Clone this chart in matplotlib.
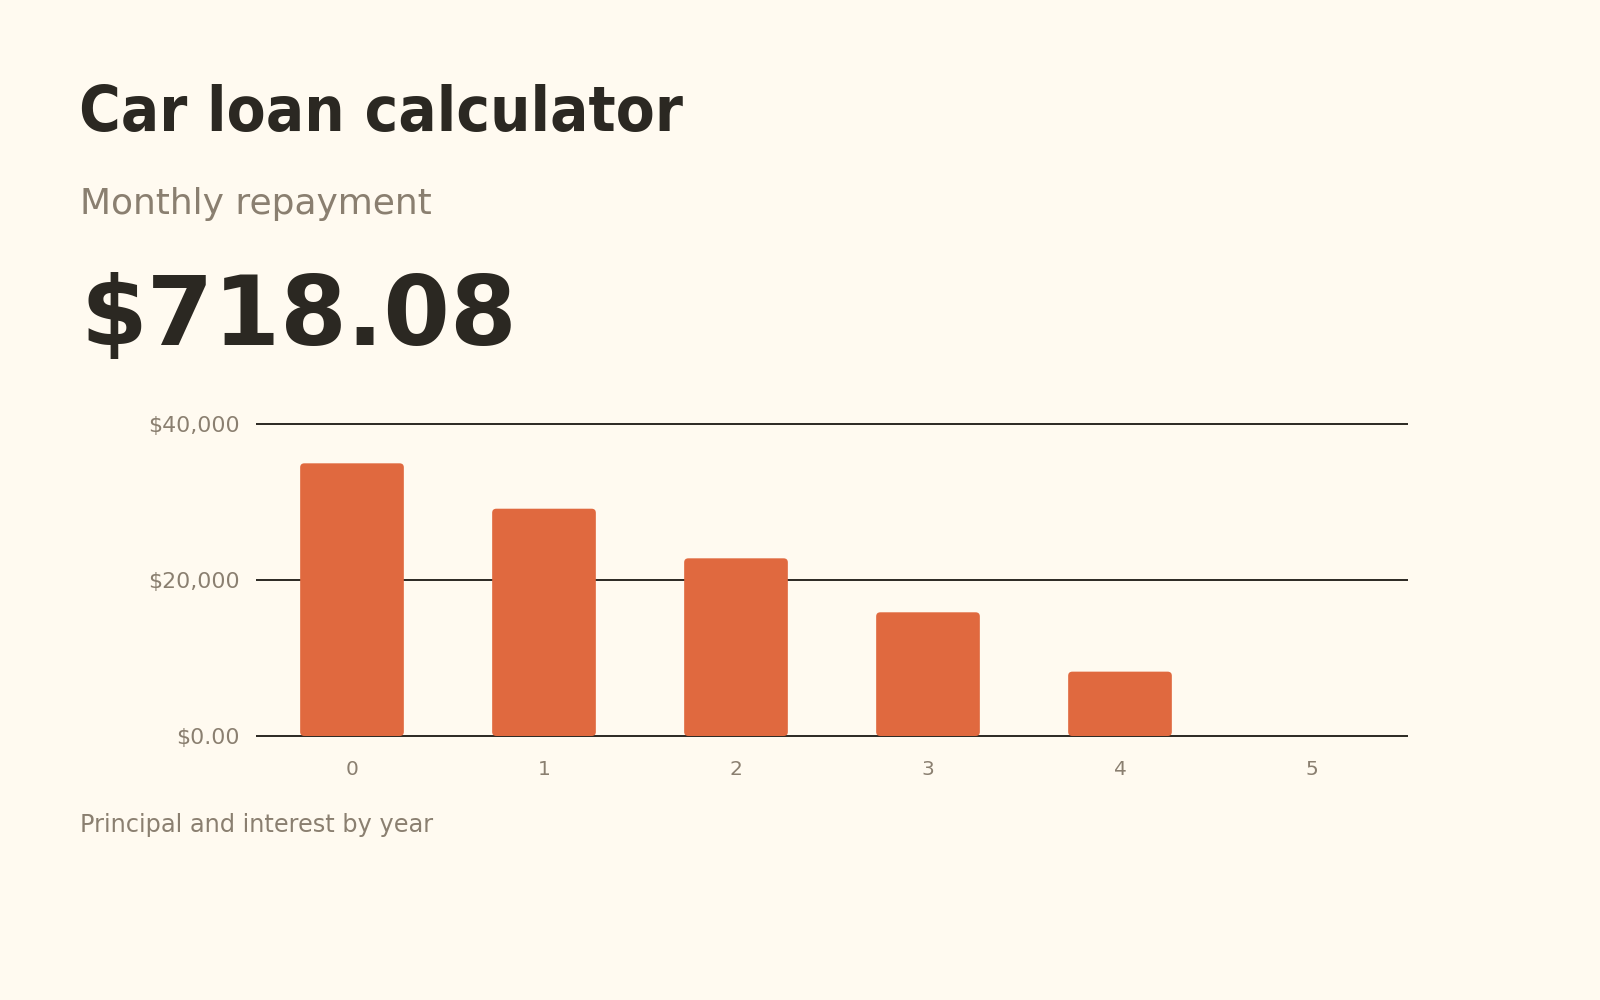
import matplotlib
matplotlib.use("Agg")
import matplotlib.pyplot as plt
from matplotlib.patches import FancyBboxPatch
from matplotlib.ticker import FuncFormatter

# Data: remaining principal + interest at the start of each year
years = [0, 1, 2, 3, 4, 5]
balance = [34960, 29140, 22780, 15860, 8250, 0]
monthly_payment = "$718.08"

bg = "#fffaf0"
ink = "#2b2822"
muted = "#8a7f70"
bar_color = "#e0693f"

fig = plt.figure(figsize=(16, 10), dpi=100, facecolor=bg)
ax = fig.add_axes([0.16, 0.264, 0.72, 0.312], facecolor=bg)

bars = ax.bar(years, balance, width=0.54, color=bar_color)

# swap the plain bars for rounded ones
for b in bars:
    x, y = b.get_x(), b.get_y()
    w, h = b.get_width(), b.get_height()
    b.remove()
    if h <= 0:
        continue
    ax.add_patch(FancyBboxPatch((x, y), w, h,
                                boxstyle="round,pad=0,rounding_size=0.022",
                                mutation_aspect=24000,
                                facecolor=bar_color, edgecolor="none", zorder=3))

ax.set_xlim(-0.5, 5.5)
ax.set_ylim(0, 40000)
ax.set_xticks(years)
ax.set_yticks([0, 20000, 40000])
ax.yaxis.set_major_formatter(FuncFormatter(lambda v, p: "$0.00" if v == 0 else f"${v:,.0f}"))
ax.grid(axis="y", color=ink, linewidth=1.4, zorder=1, solid_capstyle="butt")
ax.set_axisbelow(True)
for gl in ax.get_ygridlines():
    gl.set_clip_on(False)
for s in ax.spines.values():
    s.set_visible(False)
ax.tick_params(axis="both", length=0, labelcolor=muted)
ax.tick_params(axis="y", pad=12, labelsize=15.8)
ax.tick_params(axis="x", pad=17, labelsize=14.5)

# Header text
fig.text(0.0495, 0.869, "Car loan calculator", fontsize=45.5, fontweight="bold",
         fontstretch="condensed", color=ink, va="baseline")
fig.text(0.050, 0.786, "Monthly repayment", fontsize=25.9, color=muted, va="baseline")
fig.text(0.050, 0.655, monthly_payment, fontsize=69, fontweight="bold",
         color=ink, va="baseline")
fig.text(0.050, 0.168, "Principal and interest by year", fontsize=17.3,
         color=muted, va="baseline")

fig.savefig("out.png", dpi=100, facecolor=bg)
